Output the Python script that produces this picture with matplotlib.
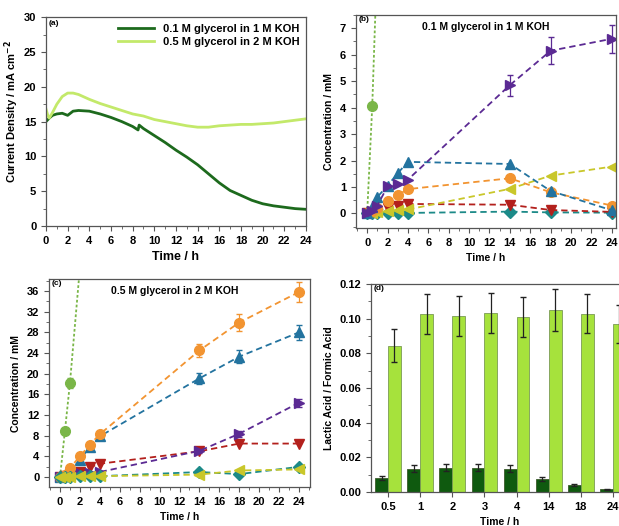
import matplotlib

matplotlib.use("Agg")
import matplotlib.pyplot as plt
import numpy as np
from matplotlib.ticker import FormatStrFormatter, MultipleLocator

plt.rcParams["font.family"] = ["Liberation Sans", "DejaVu Sans"]
plt.rcParams["font.weight"] = "bold"
plt.rcParams["axes.labelweight"] = "bold"

# ---- (a) chronoamperometry ----
ta = [0, 0.3, 0.6, 1, 1.5, 2, 2.5, 3, 4, 5, 6, 7, 8, 8.5, 8.6, 9, 10, 11, 12, 13,
      14, 15, 16, 17, 18, 19, 20, 21, 22, 23, 24]
ja_low = [15.0, 15.5, 15.9, 16.1, 16.2, 15.9, 16.5, 16.6, 16.5, 16.1, 15.6, 15.0, 14.3,
          13.8, 14.5, 14.0, 13.0, 12.0, 10.9, 9.9, 8.8, 7.5, 6.2, 5.1, 4.4, 3.7, 3.2,
          2.9, 2.7, 2.5, 2.4]
ta_high = [0, 0.15, 0.3, 0.6, 1, 1.5, 2, 2.5, 3, 4, 5, 6, 7, 8, 9, 10, 11, 12, 13, 14,
           15, 16, 17, 18, 19, 20, 21, 22, 23, 24]
ja_high = [16.8, 16.0, 15.5, 16.3, 17.5, 18.6, 19.1, 19.1, 18.9, 18.2, 17.6, 17.1, 16.6,
           16.1, 15.8, 15.3, 15.0, 14.7, 14.4, 14.2, 14.2, 14.4, 14.5, 14.6, 14.6, 14.7,
           14.8, 15.0, 15.2, 15.4]

# ---- (b) 0.1 M glycerol in 1 M KOH ----
tb = [0, 0.5, 1, 2, 3, 4, 14, 18, 24]
b_purple = [0, 0.1, 0.3, 1.02, 1.12, 1.28, 4.85, 6.15, 6.6]
b_purple_err = [0, 0, 0, 0, 0, 0, 0.4, 0.5, 0.52]
b_blue = [0, 0.25, 0.62, 1.05, 1.52, 1.95, 1.87, 0.85, 0.12]
b_orange = [0, 0.1, 0.22, 0.46, 0.7, 0.92, 1.33, 0.8, 0.3]
b_yellow = [0, 0.03, 0.05, 0.08, 0.12, 0.15, 0.93, 1.43, 1.77]
b_red = [0, 0.05, 0.1, 0.2, 0.28, 0.36, 0.33, 0.13, 0.06]
b_teal = [0, 0.0, 0.0, 0.01, 0.02, 0.02, 0.07, 0.04, 0.03]
tb_green = [0, 0.5, 1]
b_green = [0, 4.05, 9.8]

# ---- (c) 0.5 M glycerol in 2 M KOH ----
tc = [0, 0.5, 1, 2, 3, 4, 14, 18, 24]
c_orange = [0, 0.5, 1.8, 4.0, 6.3, 8.3, 24.5, 29.9, 35.8]
c_orange_err = [0, 0, 0.5, 0.5, 0.5, 0.5, 1.3, 1.6, 2.0]
c_blue = [0, 0.3, 1.2, 3.3, 5.9, 7.9, 19.1, 23.3, 28.0]
c_blue_err = [0, 0, 0.3, 0.4, 0.4, 0.4, 1.0, 1.3, 1.5]
c_purple = [0, 0.2, 0.6, 0.8, 0.9, 1.0, 5.1, 8.4, 14.4]
c_purple_err = [0, 0, 0, 0, 0, 0, 0.5, 0.6, 0.8]
c_red = [0, 0.2, 0.5, 1.0, 1.9, 2.6, 5.0, 6.5, 6.5]
c_teal = [0, 0.05, 0.1, 0.15, 0.2, 0.2, 1.0, 0.6, 2.0]
c_yellow = [0, 0.05, 0.1, 0.15, 0.2, 0.2, 0.5, 1.3, 1.5]
tc_green = [0, 0.5, 1, 2]
c_green = [0, 9.0, 18.2, 40.5]
c_green_err = [0, 0.6, 1.0, 0]

# ---- (d) lactic / formic ratio ----
d_labels = ["0.5", "1", "2", "3", "4", "14", "18", "24"]
d_low = [0.008, 0.0135, 0.014, 0.014, 0.0135, 0.0075, 0.004, 0.0015]
d_low_err = [0.001, 0.002, 0.002, 0.002, 0.002, 0.001, 0.0008, 0.0005]
d_high = [0.0845, 0.1025, 0.1015, 0.1035, 0.101, 0.105, 0.103, 0.097]
d_high_err = [0.0095, 0.0115, 0.0115, 0.0115, 0.0115, 0.012, 0.0115, 0.011]

DARK = "#1d6a1d"
LIGHT = "#c3e96a"
GREEN = "#7ab648"
ORANGE = "#f29431"
BLUE = "#23739f"
PURPLE = "#5b2a93"
RED = "#b3201c"
TEAL = "#1c8a88"
YELLOW = "#c9c72a"
SPINE = "#555555"


def style(ax, fs):
    for s in ax.spines.values():
        s.set_color(SPINE)
        s.set_linewidth(0.9)
    ax.tick_params(which="both", direction="out", top=False, right=False,
                   labelsize=fs, color=SPINE)
    ax.tick_params(which="major", length=3.5)
    ax.tick_params(which="minor", length=2)
    for lab in ax.get_xticklabels() + ax.get_yticklabels():
        lab.set_fontweight("bold")


def series(ax, t, y, color, marker, err=None, ls=(0, (3.5, 2.2)), ms=7):
    ax.errorbar(t, y, yerr=err, color=color, marker=marker, ms=ms, lw=1.3,
                ls=ls, capsize=2, elinewidth=0.9, mec=color)


fig = plt.figure(figsize=(6.19, 5.26), dpi=100)

# (a)
ax = fig.add_axes([0.0743, 0.5703, 0.420, 0.397])
ax.plot(ta, ja_low, color=DARK, lw=2.0, label="0.1 M glycerol in 1 M KOH")
ax.plot(ta_high, ja_high, color=LIGHT, lw=2.0, label="0.5 M glycerol in 2 M KOH")
ax.set_xlim(0, 24)
ax.set_ylim(0, 30)
ax.xaxis.set_major_locator(MultipleLocator(2))
ax.xaxis.set_minor_locator(MultipleLocator(1))
ax.yaxis.set_major_locator(MultipleLocator(5))
ax.yaxis.set_minor_locator(MultipleLocator(2.5))
ax.set_xlabel("Time / h", fontsize=9)
ax.set_ylabel("Current Density / mA cm$^{\\mathbf{-2}}$", fontsize=8)
ax.yaxis.set_label_coords(-0.095, 0.55)
ax.legend(loc="upper right", frameon=False, handlelength=3.2,
          borderaxespad=0.2, labelspacing=0.3, prop={"weight": "bold", "size": 8})
ax.text(0.01, 0.985, "(a)", transform=ax.transAxes, fontsize=6, va="top")
style(ax, 8)

# (b)
ax = fig.add_axes([0.575, 0.5665, 0.420, 0.405])
series(ax, tb_green, b_green, GREEN, "o", ls=(0, (1.5, 1.2)))
series(ax, tb, b_teal, TEAL, "D", ms=6)
series(ax, tb, b_red, RED, "v")
series(ax, tb, b_yellow, YELLOW, "<")
series(ax, tb, b_orange, ORANGE, "o")
series(ax, tb, b_blue, BLUE, "^")
series(ax, tb, b_purple, PURPLE, ">", err=b_purple_err)
ax.set_xlim(-1.1, 24.4)
ax.set_ylim(-0.55, 7.5)
ax.xaxis.set_major_locator(MultipleLocator(2))
ax.xaxis.set_minor_locator(MultipleLocator(1))
ax.yaxis.set_major_locator(MultipleLocator(1))
ax.yaxis.set_minor_locator(MultipleLocator(0.5))
ax.set_xlabel("Time / h", fontsize=7.5)
ax.set_ylabel("Concentration / mM", fontsize=7.5)
ax.text(0.01, 0.995, "(b)", transform=ax.transAxes, fontsize=6, va="top")
ax.text(0.5, 0.965, "0.1 M glycerol in 1 M KOH", transform=ax.transAxes,
        fontsize=7.5, va="top", ha="center")
style(ax, 8)

# (c)
ax = fig.add_axes([0.0792, 0.0741, 0.4216, 0.3954])
series(ax, tc_green, c_green, GREEN, "o", err=c_green_err, ls=(0, (1.5, 1.2)))
series(ax, tc, c_red, RED, "v")
series(ax, tc, c_purple, PURPLE, ">", err=c_purple_err)
series(ax, tc, c_blue, BLUE, "^", err=c_blue_err)
series(ax, tc, c_orange, ORANGE, "o", err=c_orange_err)
series(ax, tc, c_teal, TEAL, "D", ms=6)
series(ax, tc, c_yellow, YELLOW, "<")
ax.set_xlim(-1.1, 25.1)
ax.set_ylim(-1.9, 38.3)
ax.xaxis.set_major_locator(MultipleLocator(2))
ax.xaxis.set_minor_locator(MultipleLocator(1))
ax.yaxis.set_major_locator(MultipleLocator(4))
ax.yaxis.set_minor_locator(MultipleLocator(2))
ax.set_xlabel("Time / h", fontsize=7.5)
ax.set_ylabel("Concentration / mM", fontsize=7.5)
ax.text(0.01, 0.995, "(c)", transform=ax.transAxes, fontsize=6, va="top")
ax.text(0.48, 0.965, "0.5 M glycerol in 2 M KOH", transform=ax.transAxes,
        fontsize=7.5, va="top", ha="center")
style(ax, 8)

# (d)
ax = fig.add_axes([0.5994, 0.0646, 0.4168, 0.3954])
x = np.arange(len(d_labels))
ax.bar(x - 0.2, d_low, 0.4, yerr=d_low_err, color="#0f5a0f", edgecolor="#3b5a2b",
       lw=0.6, capsize=2, error_kw={"elinewidth": 0.9, "ecolor": "#222222"})
ax.bar(x + 0.2, d_high, 0.4, yerr=d_high_err, color="#a6e23c", edgecolor="#7a9a55",
       lw=0.6, capsize=2, error_kw={"elinewidth": 0.9, "ecolor": "#222222"})
ax.set_xlim(-0.53, 7.5)
ax.set_ylim(0, 0.12)
ax.set_xticks(x)
ax.set_xticklabels(d_labels)
ax.yaxis.set_major_locator(MultipleLocator(0.02))
ax.yaxis.set_minor_locator(MultipleLocator(0.01))
ax.yaxis.set_major_formatter(FormatStrFormatter("%.2f"))
ax.set_xlabel("Time / h", fontsize=7.5)
ax.set_ylabel("Lactic Acid / Formic Acid", fontsize=7.5)
ax.text(0.01, 0.995, "(d)", transform=ax.transAxes, fontsize=6, va="top")
style(ax, 8)

fig.savefig("out.png", dpi=100)
